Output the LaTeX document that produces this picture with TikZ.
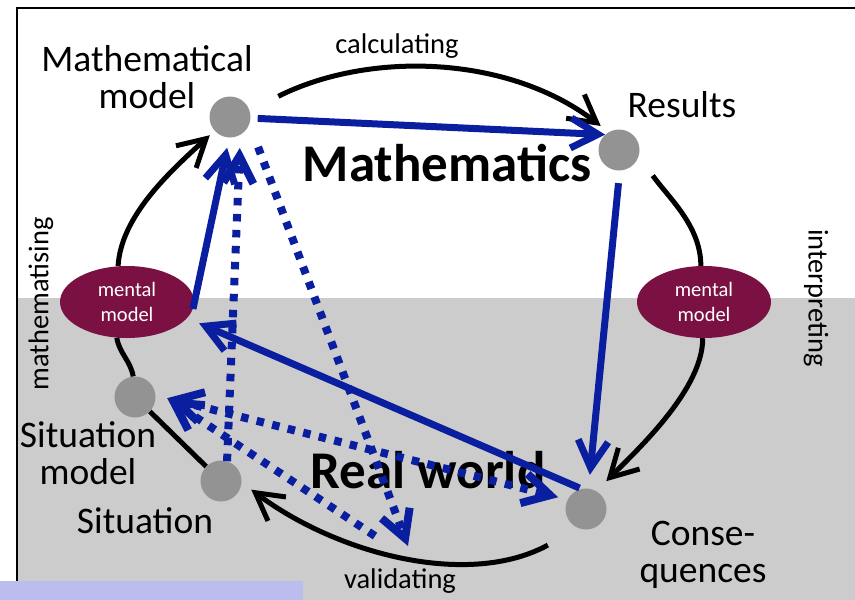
\documentclass[tikz,border=0pt]{standalone}
\usepackage{fontspec}
\setmainfont{Carlito}
\usepackage{tikz}
\usetikzlibrary{arrows.meta,shapes.geometric}
\definecolor{mmblue}{HTML}{0A1EA0}
\definecolor{mmgray}{HTML}{939393}
\definecolor{mmback}{HTML}{CCCCCC}
\definecolor{mmwine}{HTML}{7B1042}
\definecolor{mmlav}{HTML}{BBBDEE}

\begin{document}
\begin{tikzpicture}[x=1pt,y=-1pt,>={Straight Barb[length=27pt,width=30pt]},
  dot/.style={circle,fill=mmgray,minimum size=41pt,inner sep=0pt},
  mental/.style={ellipse,fill=mmwine,minimum width=134pt,minimum height=72pt,inner sep=0pt,
    text=white,align=center,font=\fontsize{20.5}{24.5}\selectfont},
  lbl/.style={align=center,font=\fontsize{37.5}{37}\selectfont},
  verb/.style={font=\fontsize{28.5}{30}\selectfont},
  world/.style={font=\fontsize{53}{54}\selectfont\bfseries},
  cyc/.style={line width=5pt,black},
  flow/.style={line width=7pt,mmblue},
  check/.style={line width=8pt,mmblue,dash pattern=on 7.5pt off 8.5pt}]
  \useasboundingbox (0,0) rectangle (855,600);
  % background and frame
  \fill[mmback] (17,298) rectangle (855,600);
  \draw[line width=2pt] (17,600) -- (17,8) -- (855,8);
  \fill[mmlav] (0,581) rectangle (303,600);
  % labels
  \node[lbl] (mmlbl) at (147,77) {Mathematical\\model};
  \node[lbl,anchor=base] (reslbl) at (682,117) {Results};
  \node[lbl] (sitmlbl) at (88,453) {Situation\\model};
  \node[lbl,anchor=base] (sitlbl) at (145,533) {Situation};
  \node[lbl] (conslbl) at (703,555) {Conse-\\quences};
  \node[world,anchor=base] (math) at (447,181) {Mathematics};
  \node[world,anchor=base] (real) at (428,488) {Real world};
  \node[verb,anchor=base] (calc) at (397,53) {calculating};
  \node[verb,anchor=base] (valid) at (400,588) {validating};
  \node[verb,rotate=90] (mathe) at (41,304) {mathematising};
  \node[verb,rotate=-90] (inter) at (816,298) {interpreting};
  % stations
  \node[dot] (mm) at (230,117) {};
  \node[dot] (res) at (619,150) {};
  \node[dot] (sitm) at (135,397) {};
  \node[dot] (sit) at (221,481) {};
  \node[dot] (cons) at (586,509) {};
  \node[mental] (lmm) at (127,302) {mental\\model};
  \node[mental] (rmm) at (704,302) {mental\\model};
  \coordinate (val) at (408,546);
  \coordinate (val2) at (375,536);
  % modelling cycle
  \draw[cyc,->,shorten <=32pt,shorten >=10pt] (mm.18) .. controls +(120,-60) and +(-100,-77) .. (res.120);
  \draw[cyc,shorten <=24pt] (res.-17) .. controls +(30,42) and +(0,-40) .. (rmm.95);
  \draw[cyc,->,shorten >=14pt] (rmm.268) .. controls +(0,50) and +(45,-45) .. (cons.60);
  \draw[cyc,->,shorten <=35pt,shorten >=12pt] (cons.-111) .. controls +(-110,60) and +(96,72) .. (sit.-4);
  \draw[cyc] (sit) -- (sitm);
  \draw[cyc] (sitm.95) to[out=100,in=-80] (lmm.-106);
  \draw[cyc,->,shorten >=6.5pt] (lmm.104) .. controls +(3,-50) and +(-45,41) .. (mm.-138);
  % blue paths
  \draw[flow,->,shorten <=7pt] (mm.-3) -- (res.132);
  \draw[flow,->,shorten <=12.5pt,shorten >=13.7pt] (res.-88) -- (cons.83);
  \draw[flow,->,shorten <=2pt,shorten >=13pt] (cons.103) -- (lmm.-15);
  \draw[flow,->,shorten >=10.3pt] (lmm.-6) -- (mm.-92);
  \draw[check,->,shorten >=13pt] (sit.73) -- (mm.-60);
  \draw[check,->,shorten <=24.5pt] (mm.-20) -- (val);
  \draw[check,->,shorten >=15.5pt] (val2) -- (sitm.21);
  \draw[check,<->,shorten <=12pt,shorten >=9.7pt] (sitm.5) -- (cons.153);
\end{tikzpicture}
\end{document}
